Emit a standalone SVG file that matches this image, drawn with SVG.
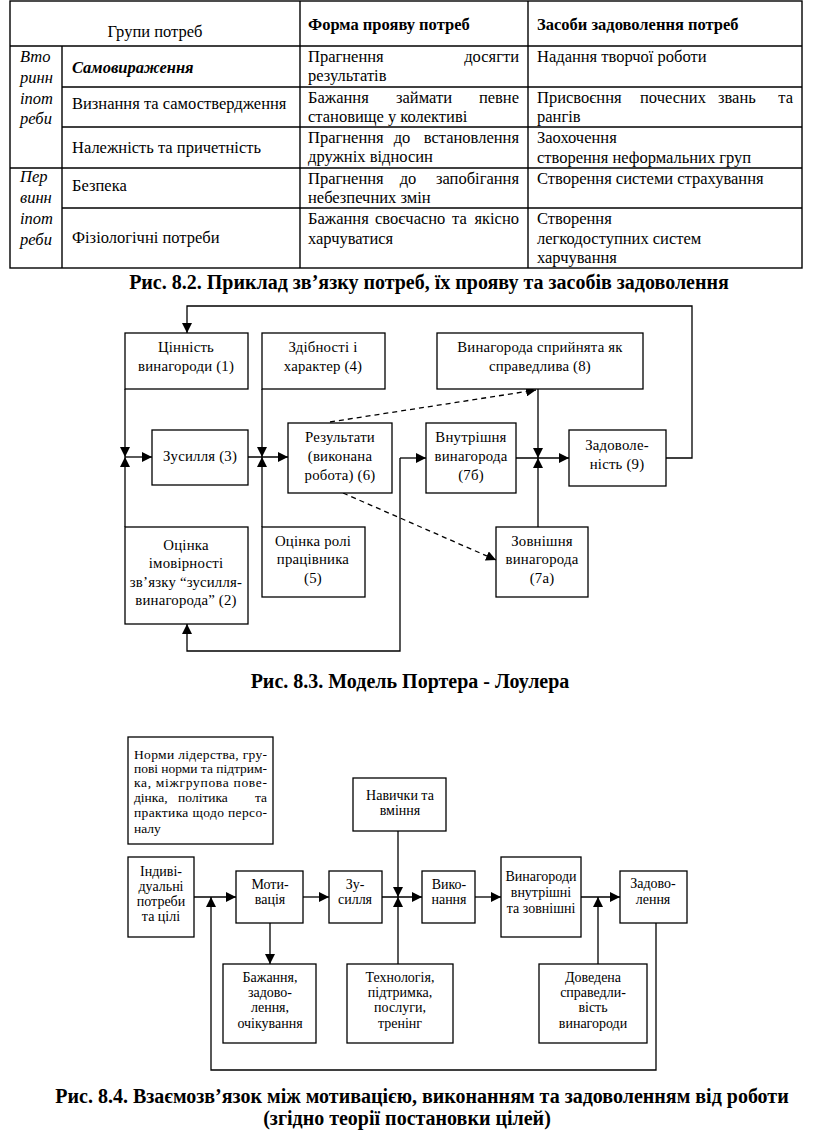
<svg xmlns="http://www.w3.org/2000/svg" width="816" height="1133" viewBox="0 0 816 1133">
<style>
text{font-family:"Liberation Serif","Times New Roman",serif;fill:#000}
.t{font-size:16.5px}
.tb{font-size:16.5px;font-weight:bold}
.ti{font-size:16.5px;font-style:italic}
.tbi{font-size:16.5px;font-style:italic;font-weight:bold}
.cap{font-size:20px;font-weight:bold;text-anchor:middle}
.f3{font-size:14.8px;text-anchor:middle;letter-spacing:0.2px}
.f4{font-size:14px;text-anchor:middle}
.f4l{font-size:13.5px}
.grid{stroke:#000;stroke-width:1.4;fill:none}
.box{fill:#fff;stroke:#000;stroke-width:1.3}
.ar{fill:none;stroke:#000;stroke-width:1.3;marker-end:url(#ah)}
.da{fill:none;stroke:#000;stroke-width:1.3;stroke-dasharray:5,4;marker-end:url(#ah)}
.e{text-anchor:end}
.m{text-anchor:middle}
</style>
<defs>
<marker id="ah" markerUnits="userSpaceOnUse" markerWidth="11" markerHeight="10" refX="10" refY="5" orient="auto">
<path d="M0,0 L10,5 L0,10 z" fill="#000"/>
</marker>
</defs>
<rect width="816" height="1133" fill="#fff"/>

<!-- TABLE -->
<g id="table">
<rect class="grid" x="10" y="1" width="792" height="267"/>
<line class="grid" x1="10" y1="46" x2="802" y2="46"/>
<line class="grid" x1="62" y1="46" x2="62" y2="268"/>
<line class="grid" x1="300" y1="1" x2="300" y2="268"/>
<line class="grid" x1="528" y1="1" x2="528" y2="268"/>
<line class="grid" x1="62" y1="87" x2="802" y2="87"/>
<line class="grid" x1="62" y1="127" x2="802" y2="127"/>
<line class="grid" x1="10" y1="168" x2="802" y2="168"/>
<line class="grid" x1="62" y1="208" x2="802" y2="208"/>

<text class="t m" x="155" y="37">Групи потреб</text>
<text class="tb" x="308" y="30">Форма прояву потреб</text>
<text class="tb" x="537" y="30">Засоби задоволення потреб</text>

<text class="ti" x="20" y="62">Вто</text>
<text class="ti" x="20" y="83">ринн</text>
<text class="ti" x="20" y="104">іпот</text>
<text class="ti" x="20" y="124">реби</text>
<text class="ti" x="20" y="182">Пер</text>
<text class="ti" x="20" y="203">винн</text>
<text class="ti" x="20" y="224">іпот</text>
<text class="ti" x="20" y="245">реби</text>

<text class="tbi" x="72" y="73">Самовираження</text>
<text class="t" x="72" y="109">Визнання та самоствердження</text>
<text class="t" x="72" y="153">Належність та причетність</text>
<text class="t" x="72" y="191">Безпека</text>
<text class="t" x="72" y="243">Фізіологічні потреби</text>

<text class="t" x="308" y="62">Прагнення</text>
<text class="t e" x="519" y="62">досягти</text>
<text class="t" x="308" y="81">результатів</text>
<text class="t" x="308" y="103">Бажання</text>
<text class="t m" x="424" y="103">займати</text>
<text class="t e" x="519" y="103">певне</text>
<text class="t" x="308" y="122">становище у колективі</text>
<text class="t" x="308" y="143">Прагнення</text>
<text class="t m" x="402" y="143">до</text>
<text class="t e" x="519" y="143">встановлення</text>
<text class="t" x="308" y="162">дружніх відносин</text>
<text class="t" x="308" y="184">Прагнення</text>
<text class="t m" x="408" y="184">до</text>
<text class="t e" x="519" y="184">запобігання</text>
<text class="t" x="308" y="203">небезпечних змін</text>
<text class="t" x="308" y="224">Бажання</text>
<text class="t" x="375" y="224">своєчасно</text>
<text class="t" x="452" y="224">та</text>
<text class="t e" x="519" y="224">якісно</text>
<text class="t" x="308" y="244">харчуватися</text>

<text class="t" x="537" y="62">Надання творчої роботи</text>
<text class="t" x="537" y="103">Присвоєння</text>
<text class="t" x="640" y="103">почесних</text>
<text class="t" x="718" y="103">звань</text>
<text class="t e" x="793" y="103">та</text>
<text class="t" x="537" y="122">рангів</text>
<text class="t" x="537" y="143">Заохочення</text>
<text class="t" x="537" y="163">створення неформальних груп</text>
<text class="t" x="537" y="184">Створення системи страхування</text>
<text class="t" x="537" y="224">Створення</text>
<text class="t" x="537" y="244">легкодоступних систем</text>
<text class="t" x="537" y="263">харчування</text>
</g>
<text class="cap" x="429" y="289">Рис. 8.2. Приклад зв’язку потреб, їх прояву та засобів задоволення</text>

<!-- FIG 8.3 connectors -->
<g id="connectors-83">
<path class="ar" d="M666,458 H692 V306 H187 V333"/>
<path class="ar" d="M125,389 V457"/>
<path class="ar" d="M125,527 V457"/>
<path class="ar" d="M125,457 H152"/>
<path class="ar" d="M262,389 V457"/>
<path class="ar" d="M262,527 V457"/>
<path class="ar" d="M248,457 H288"/>
<path class="ar" d="M400,458 V651 H187 V624"/>
<path class="ar" d="M400,458 H426"/>
<path class="ar" d="M538,389 V458"/>
<path class="ar" d="M538,527 V458"/>
<path class="ar" d="M516,458 H569"/>
<path class="da" d="M330,422 L536,390"/>
<path class="da" d="M343,493 L496,560"/>
</g>

<g id="n1"><rect class="box" x="125" y="333" width="123" height="56"/>
<text class="f3" x="186" y="352">Цінність</text><text class="f3" x="186" y="371">винагороди (1)</text></g>
<g id="n4"><rect class="box" x="262" y="333" width="123" height="56"/>
<text class="f3" x="323" y="352">Здібності і</text><text class="f3" x="323" y="371">характер (4)</text></g>
<g id="n8"><rect class="box" x="437" y="333" width="206" height="56"/>
<text class="f3" x="540" y="352">Винагорода сприйнята як</text><text class="f3" x="540" y="371">справедлива (8)</text></g>
<g id="n3"><rect class="box" x="152" y="430" width="96" height="55"/>
<text class="f3" x="200" y="461">Зусилля (3)</text></g>
<g id="n6"><rect class="box" x="288" y="423" width="104" height="70"/>
<text class="f3" x="340" y="442">Результати</text><text class="f3" x="340" y="461">(виконана</text><text class="f3" x="340" y="480">робота) (6)</text></g>
<g id="n7b"><rect class="box" x="426" y="423" width="90" height="70"/>
<text class="f3" x="471" y="442">Внутрішня</text><text class="f3" x="471" y="461">винагорода</text><text class="f3" x="471" y="480">(7б)</text></g>
<g id="n9"><rect class="box" x="569" y="430" width="97" height="56"/>
<text class="f3" x="617" y="450">Задоволе-</text><text class="f3" x="617" y="469">ність (9)</text></g>
<g id="n2"><rect class="box" x="125" y="527" width="123" height="97"/>
<text class="f3" x="186" y="550">Оцінка</text><text class="f3" x="186" y="568">імовірності</text><text class="f3" x="186" y="587">зв’язку “зусилля-</text><text class="f3" x="186" y="605">винагорода” (2)</text></g>
<g id="n5"><rect class="box" x="262" y="527" width="103" height="70"/>
<text class="f3" x="313" y="546">Оцінка ролі</text><text class="f3" x="313" y="564">працівника</text><text class="f3" x="313" y="583">(5)</text></g>
<g id="n7a"><rect class="box" x="496" y="527" width="92" height="70"/>
<text class="f3" x="542" y="546">Зовнішня</text><text class="f3" x="542" y="564">винагорода</text><text class="f3" x="542" y="583">(7а)</text></g>

<text class="cap" x="410" y="688">Рис. 8.3. Модель Портера - Лоулера</text>

<!-- FIG 8.4 connectors -->
<g id="connectors-84">
<path class="ar" d="M194,897 H236"/>
<path class="ar" d="M656,923 V1070 H211 V897"/>
<path class="ar" d="M303,897 H329"/>
<path class="ar" d="M382,897 H422"/>
<path class="ar" d="M398,831 V897"/>
<path class="ar" d="M398,964 V897"/>
<path class="ar" d="M475,897 H501"/>
<path class="ar" d="M581,897 H620"/>
<path class="ar" d="M598,964 V897"/>
<path class="ar" d="M270,923 V964"/>
</g>

<g id="m-norms"><rect class="box" x="128" y="737" width="145" height="107"/>
<text class="f4l" x="134" y="759" textLength="133" lengthAdjust="spacing">Норми лідерства, гру-</text>
<text class="f4l" x="134" y="773" textLength="133" lengthAdjust="spacing">пові норми та підтрим-</text>
<text class="f4l" x="134" y="787" textLength="133" lengthAdjust="spacing">ка, міжгрупова пове-</text>
<text class="f4l" x="134" y="802">дінка,</text>
<text class="f4l m" x="203" y="802">політика</text>
<text class="f4l e" x="267" y="802">та</text>
<text class="f4l" x="134" y="817" textLength="133" lengthAdjust="spacing">практика щодо персо-</text>
<text class="f4l" x="134" y="833">налу</text></g>
<g id="m-skills"><rect class="box" x="353" y="778" width="93" height="53"/>
<text class="f4" x="400" y="800">Навички та</text><text class="f4" x="400" y="815">вміння</text></g>
<g id="m-needs"><rect class="box" x="128" y="857" width="66" height="80"/>
<text class="f4" x="161" y="876">Індиві-</text><text class="f4" x="161" y="891">дуальні</text><text class="f4" x="161" y="906">потреби</text><text class="f4" x="161" y="921">та цілі</text></g>
<g id="m-motiv"><rect class="box" x="236" y="871" width="67" height="52"/>
<text class="f4" x="270" y="889">Моти-</text><text class="f4" x="270" y="904">вація</text></g>
<g id="m-effort"><rect class="box" x="329" y="871" width="53" height="52"/>
<text class="f4" x="355" y="889">Зу-</text><text class="f4" x="355" y="904">силля</text></g>
<g id="m-perf"><rect class="box" x="422" y="871" width="53" height="52"/>
<text class="f4" x="449" y="889">Вико-</text><text class="f4" x="449" y="904">нання</text></g>
<g id="m-rewards"><rect class="box" x="501" y="857" width="80" height="80"/>
<text class="f4" x="541" y="881">Винагороди</text><text class="f4" x="541" y="897">внутрішні</text><text class="f4" x="541" y="913">та зовнішні</text></g>
<g id="m-satisf"><rect class="box" x="620" y="871" width="67" height="52"/>
<text class="f4" x="653" y="888">Задово-</text><text class="f4" x="653" y="904">лення</text></g>
<g id="m-desire"><rect class="box" x="223" y="964" width="93" height="79"/>
<text class="f4" x="270" y="982">Бажання,</text><text class="f4" x="270" y="997">задово-</text><text class="f4" x="270" y="1012">лення,</text><text class="f4" x="270" y="1028">очікування</text></g>
<g id="m-tech"><rect class="box" x="347" y="964" width="106" height="79"/>
<text class="f4" x="400" y="982">Технологія,</text><text class="f4" x="400" y="997">підтримка,</text><text class="f4" x="400" y="1012">послуги,</text><text class="f4" x="400" y="1028">тренінг</text></g>
<g id="m-fair"><rect class="box" x="539" y="964" width="108" height="79"/>
<text class="f4" x="593" y="982">Доведена</text><text class="f4" x="593" y="997">справедли-</text><text class="f4" x="593" y="1012">вість</text><text class="f4" x="593" y="1028">винагороди</text></g>

<text class="cap" x="422" y="1103">Рис. 8.4. Взаємозв’язок між мотивацією, виконанням та задоволенням від роботи</text>
<text class="cap" x="407" y="1125">(згідно теорії постановки цілей)</text>
</svg>
